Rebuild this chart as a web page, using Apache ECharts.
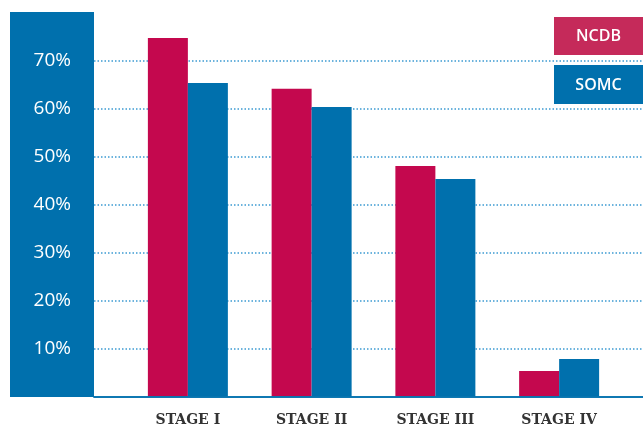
<!DOCTYPE html>
<html>
<head>
<meta charset="utf-8">
<style>
  html, body { margin: 0; padding: 0; background: #fff; }
  #chart { width: 643px; height: 426px; }
</style>
<script src="https://cdn.jsdelivr.net/npm/echarts@6/dist/echarts.min.js"></script>
</head>
<body>
<div id="chart"></div>
<script>
// Survival share by stage, two data sources
const categories = ['STAGE I', 'STAGE II', 'STAGE III', 'STAGE IV'];
const seriesNames = ['NCDB', 'SOMC'];
const ncdbValues = [74.7, 64.1, 48.0, 5.3];
const somcValues = [65.3, 60.3, 45.3, 7.8];
const yTicks = [0, 10, 20, 30, 40, 50, 60, 70, 80];
const shownTicks = [10, 20, 30, 40, 50, 60, 70];

const PINK = '#C4084E';
const BLUE = '#0070AD';

const chart = echarts.init(document.getElementById('chart'));

const gridTop = 12.5;
const gridBottom = 29.5;

chart.setOption({
  animation: false,
  backgroundColor: '#fff',
  grid: [
    // wide frame: grid lines, frame lines, percentage labels
    { left: 94, right: 0, top: gridTop, bottom: gridBottom, outerBoundsMode: 'none' },
    // bar area
    { left: 126, right: 22, top: gridTop, bottom: gridBottom, outerBoundsMode: 'none' }
  ],
  graphic: [
    {
      type: 'rect', z: 0, silent: true,
      shape: { x: 10, y: 12, width: 84, height: 385 },
      style: { fill: BLUE }
    },
    {
      type: 'group', right: 0, top: 17, z: 100,
      children: [
        { type: 'rect', shape: { x: 0, y: 0, width: 89, height: 38 }, style: { fill: '#C52A5A' } },
        { type: 'text', x: 44.5, y: 19.5, style: { text: seriesNames[0], fill: '#fff', font: '600 16px "Open Sans"', align: 'center', verticalAlign: 'middle' } },
        { type: 'rect', shape: { x: 0, y: 48, width: 89, height: 39 }, style: { fill: BLUE } },
        { type: 'text', x: 44.5, y: 68, style: { text: seriesNames[1], fill: '#fff', font: '600 16px "Open Sans"', align: 'center', verticalAlign: 'middle' } }
      ]
    }
  ],
  xAxis: [
    {
      gridIndex: 0, type: 'value', position: 'top', min: 0, max: 1, z: 10,
      axisLine: { show: true, lineStyle: { color: BLUE, width: 1.5 } },
      axisTick: { show: false }, axisLabel: { show: false }, splitLine: { show: false }
    },
    {
      gridIndex: 0, type: 'value', position: 'bottom', min: 0, max: 1, z: 10,
      axisLine: { show: true, lineStyle: { color: BLUE, width: 1.5 } },
      axisTick: { show: false }, axisLabel: { show: false }, splitLine: { show: false }
    },
    {
      gridIndex: 1, type: 'category', data: categories, position: 'bottom',
      axisLine: { show: false }, axisTick: { show: false },
      axisLabel: {
        margin: 17, color: '#333',
        fontFamily: 'DejaVu Serif', fontWeight: 'bold', fontSize: 14
      }
    }
  ],
  yAxis: [
    {
      gridIndex: 0, type: 'value', min: yTicks[0], max: yTicks[yTicks.length - 1], interval: 10,
      axisLine: { show: false }, axisTick: { show: false },
      axisLabel: {
        margin: 23, color: '#fff', fontFamily: 'Open Sans', fontSize: 19,
        formatter: v => shownTicks.includes(v) ? v + '%' : ''
      },
      splitLine: {
        show: true, showMinLine: false, showMaxLine: false,
        lineStyle: { color: '#3B9AD2', width: 1.5, type: [1.5, 2] }
      }
    },
    {
      gridIndex: 1, type: 'value', min: yTicks[0], max: yTicks[yTicks.length - 1], interval: 10,
      show: false, splitLine: { show: false }
    }
  ],
  series: [
    {
      name: seriesNames[0], type: 'bar', xAxisIndex: 2, yAxisIndex: 1,
      data: ncdbValues, barWidth: 40, barGap: '0%', z: 5,
      itemStyle: { color: PINK }
    },
    {
      name: seriesNames[1], type: 'bar', xAxisIndex: 2, yAxisIndex: 1,
      data: somcValues, barWidth: 40, barGap: '0%', z: 5,
      itemStyle: { color: BLUE }
    }
  ]
});
</script>
</body>
</html>
